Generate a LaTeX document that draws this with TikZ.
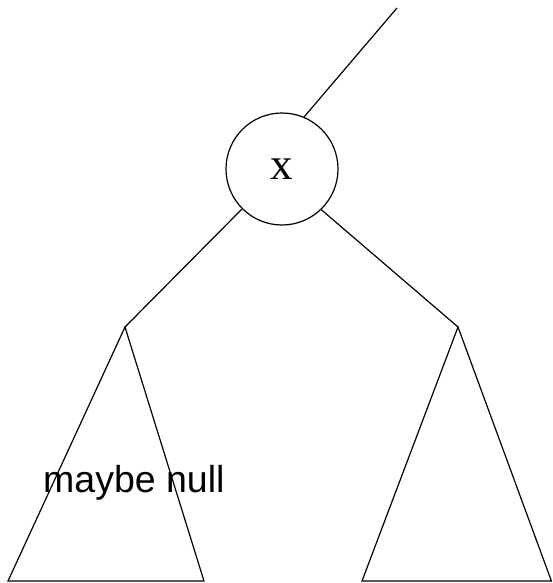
\documentclass[tikz,border=0pt]{standalone}
\usepackage{fontspec}
\setmainfont{Liberation Serif}
\newfontfamily\labelfont{Liberation Sans}
\usetikzlibrary{positioning}

\begin{document}
\begin{tikzpicture}[
    x=1pt, y=-1pt,
    edge/.style={line width=1.2pt},
    keynode/.style={draw, circle, line width=1.2pt, minimum size=112pt, inner sep=0pt, font=\fontsize{45}{45}\selectfont},
    tag/.style={anchor=base west, inner sep=0pt, font=\labelfont\fontsize{37.5}{37.5}\selectfont}
]
\useasboundingbox (0,0) rectangle (552,583);
\node[keynode] (x) at (282,169) {x};
\coordinate (top) at (397,8);
\coordinate (ltop) at (125,327);
\coordinate (rtop) at (458,327);
% subtrees
\draw[edge] (ltop) -- (8,581) -- (204,581) -- cycle;
\draw[edge] (rtop) -- (362,581) -- (551.4,581) -- cycle;
\draw[edge] (top) -- (x.67.6);
\draw[edge] (x.225.7) -- (ltop);
\draw[edge] (x.314.3) -- (rtop);
\node[tag] (null) at (43,492) {maybe null};
\end{tikzpicture}
\end{document}
